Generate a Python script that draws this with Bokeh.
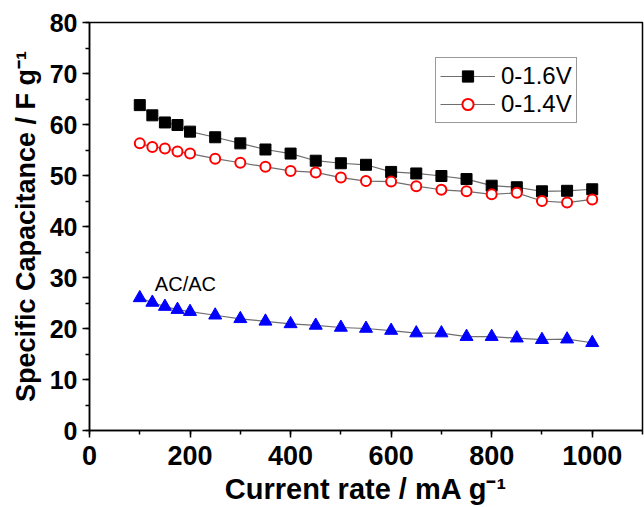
from bokeh.plotting import figure
from bokeh.models import Range1d, SingleIntervalTicker, Legend, LegendItem, Label
from bokeh.embed import file_html
from bokeh.resources import INLINE

rate = [100, 125, 150, 175, 200, 250, 300, 350, 400, 450, 500,
        550, 600, 650, 700, 750, 800, 850, 900, 950, 1000]
cap_16 = [63.8, 61.8, 60.4, 59.9, 58.6, 57.5, 56.3, 55.1, 54.3, 52.9, 52.4,
          52.1, 50.7, 50.4, 49.9, 49.3, 48.0, 47.7, 46.9, 47.0, 47.3]
cap_14 = [56.3, 55.6, 55.3, 54.7, 54.3, 53.3, 52.5, 51.7, 50.9, 50.6, 49.6,
          48.9, 48.8, 47.9, 47.2, 46.9, 46.3, 46.6, 45.0, 44.7, 45.3]
cap_ac = [26.0, 25.1, 24.3, 23.7, 23.3, 22.6, 21.9, 21.4, 20.9, 20.6, 20.2,
          20.0, 19.6, 19.1, 19.1, 18.4, 18.4, 18.1, 17.8, 17.9, 17.2]
labels = ["0-1.6V", "0-1.4V"]

FONT = "Liberation Sans"

p = figure(width=644, height=507, output_backend="svg", toolbar_location=None,
           x_range=Range1d(0, 1100), y_range=Range1d(0, 80),
           min_border_left=89, min_border_top=22, min_border_bottom=76,
           min_border_right=2)
p.grid.visible = False
p.outline_line_color = "black"
p.outline_line_width = 1.5
p.background_fill_color = "white"

for ax in (p.xaxis[0], p.yaxis[0]):
    ax.axis_line_width = 1.5
    ax.major_tick_line_width = 1.5
    ax.minor_tick_line_width = 1.5
    ax.major_tick_in = 0
    ax.major_tick_out = 7
    ax.minor_tick_in = 0
    ax.minor_tick_out = 4
    ax.major_label_text_font = FONT
    ax.major_label_text_font_style = "bold"
    ax.major_label_text_color = "black"
    ax.axis_label_text_font = FONT
    ax.axis_label_text_font_style = "bold"
    ax.axis_label_text_color = "black"

p.xaxis.major_label_text_font_size = "27px"
p.yaxis.major_label_text_font_size = "25px"
p.xaxis.axis_label_text_font_size = "29px"
p.yaxis.axis_label_text_font_size = "27px"

p.xaxis.ticker = SingleIntervalTicker(interval=200, num_minor_ticks=2)
p.yaxis.ticker = SingleIntervalTicker(interval=10, num_minor_ticks=2)
p.xaxis.axis_label = "Current rate / mA g\u207b\u00b9"
p.yaxis.axis_label = "Specific Capacitance / F g\u207b\u00b9"
p.xaxis.major_label_standoff = 8
p.yaxis.major_label_standoff = 5
p.xaxis.axis_label_standoff = 5
p.yaxis.axis_label_standoff = 6

LC = "#6e6e6e"
l1 = p.line(rate, cap_16, line_color=LC, line_width=1.2)
s1 = p.scatter(rate, cap_16, marker="square", size=11, fill_color="black",
               line_color="black")
l2 = p.line(rate, cap_14, line_color=LC, line_width=1.2)
s2 = p.scatter(rate, cap_14, marker="circle", size=10, fill_color="white",
               line_color="red", line_width=2)
l3 = p.line(rate, cap_ac, line_color=LC, line_width=1.2)
s3 = p.scatter(rate, cap_ac, marker="triangle", size=13, fill_color="blue",
               line_color="blue")

p.add_layout(Label(x=130, y=28.8, text="AC/AC", text_font=FONT,
                   text_font_size="20px", text_baseline="middle",
                   text_align="left", text_color="black"))

legend = Legend(items=[LegendItem(label=labels[0], renderers=[l1, s1]),
                       LegendItem(label=labels[1], renderers=[l2, s2])],
                location=(346, 307))
legend.border_line_color = "#333333"
legend.border_line_width = 1
legend.padding = 4
legend.margin = 0
legend.spacing = 0
legend.glyph_width = 55
legend.glyph_height = 28
legend.label_height = 28
legend.label_standoff = 6
legend.label_text_font = FONT
legend.label_text_font_size = "24px"
legend.label_text_color = "black"
legend.background_fill_alpha = 1
p.add_layout(legend)

open("out.html", "w").write(file_html(p, INLINE))
